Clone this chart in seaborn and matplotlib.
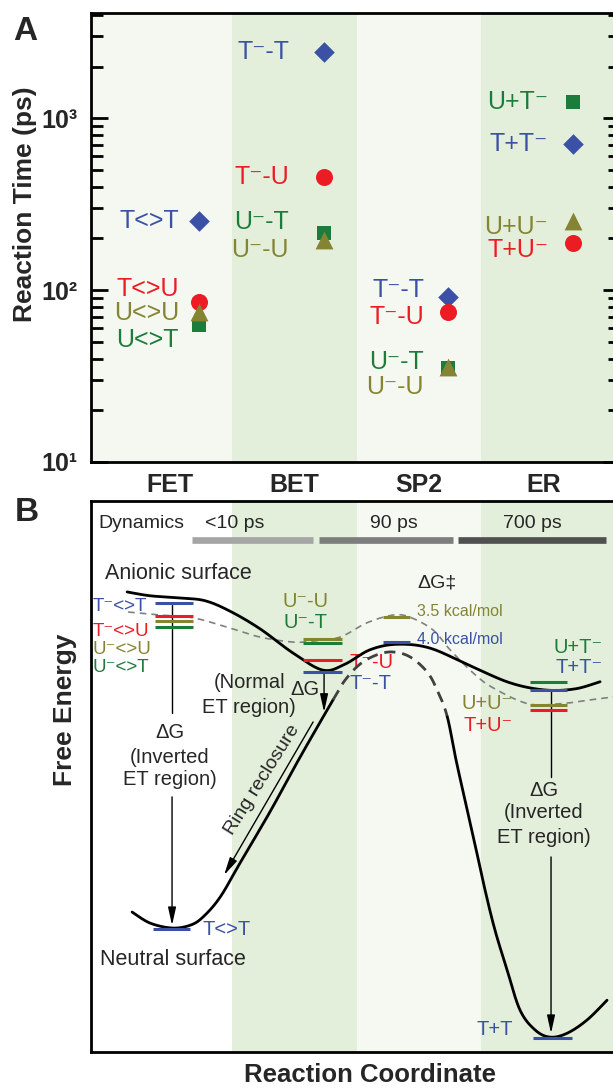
import numpy as np
import pandas as pd
import matplotlib
matplotlib.use("Agg")
import matplotlib.pyplot as plt
import seaborn as sns

sns.set_theme(style="white")
plt.rcParams["font.family"] = ["Liberation Sans", "DejaVu Sans"]

# ---------------- data: panel A ----------------
stages = ["FET", "BET", "SP2", "ER"]
tt_time = [253, 2430, 91, 706]        # blue diamonds
tu_time = [85.5, 456, 75, 188]        # red circles
ut_time = [62.7, 214, 35.2, 1245]     # green squares
uu_time = [74.8, 195, 35.8, 253]      # olive triangles

tt_labels = ["T<>T", "T⁻-T", "T⁻-T", "T+T⁻"]
tu_labels = ["T<>U", "T⁻-U", "T⁻-U", "T+U⁻"]
ut_labels = ["U<>T", "U⁻-T", "U⁻-T", "U+T⁻"]
uu_labels = ["U<>U", "U⁻-U", "U⁻-U", "U+U⁻"]
tt_label_y = [252, 2421, 100, 706]
tu_label_y = [101, 454, 69.7, 171]
ut_label_y = [51.2, 248, 38.1, 1239]
uu_label_y = [73.5, 171, 27.3, 232]
label_right = [0.072, 0.956, 2.040, 3.036]
yticks_a = [10, 100, 1000]
ytick_labels_a = ["10¹", "10²", "10³"]

# ---------------- data: panel B ----------------
anion_x = [-0.345, -0.161, 0.080, 0.281, 0.482, 0.723, 0.988, 1.229, 1.406,
           1.606, 1.823, 2.088, 2.410, 2.731, 3.012, 3.253, 3.454]
anion_y = [83.5, 82.8, 82.4, 81.9, 80.0, 76.8, 72.4, 69.3, 70.4,
           73.0, 74.0, 73.3, 70.1, 67.0, 65.7, 65.9, 67.2]
anion2_x = [-0.337, -0.080, 0.185, 0.458, 0.723, 0.988, 1.149, 1.365, 1.582,
            1.791, 1.928, 2.112, 2.249, 2.434, 2.594, 2.876, 3.133, 3.373, 3.614]
anion2_y = [79.85, 79.3, 78.8, 77.1, 75.3, 74.4, 74.6, 75.3, 77.9,
            79.3, 78.9, 76.6, 73.0, 68.8, 66.1, 63.2, 63.2, 63.9, 64.6]
neutral_x = [-0.305, -0.161, 0.016, 0.161, 0.265, 0.402, 0.562, 0.803, 1.044,
             1.309, 1.406, 1.526, 1.663, 1.791, 1.928, 2.064, 2.145, 2.225,
             2.297, 2.369, 2.450, 2.530, 2.610, 2.707, 2.811, 2.932, 3.052,
             3.189, 3.349, 3.510]
neutral_y = [25.4, 23.4, 22.5, 23.0, 24.5, 28.1, 34.3, 43.6, 53.5,
             63.9, 67.5, 70.4, 72.1, 72.6, 71.7, 69.0, 65.7, 61.0,
             53.0, 45.7, 37.6, 29.4, 22.1, 14.9, 7.6, 4.0, 2.7,
             3.4, 5.8, 9.4]
neutral_dash_range = (1.309, 2.225)

fet_levels = [81.5, 79.1, 78.2, 77.1]
bet_levels = [75.0, 74.2, 71.1, 69.0]
sp2_levels = [78.9, 74.4]
er_levels = [67.2, 65.7, 63.0, 62.1]
neutral_levels = [22.3, 2.5]
dyn_labels = ["<10 ps", "90 ps", "700 ps"]

BLUE = "#3a51a6"
RED = "#ec1c24"
OLIVE = "#848432"
GREEN = "#1c7c3b"
BAND_G = "#e4efdb"
BAND_L = "#f4f8f0"


def catmull(xs, ys, n=24):
    P = np.column_stack([xs, ys]).astype(float)
    P = np.vstack([P[0], P, P[-1]])
    segs = []
    t = np.linspace(0, 1, n, endpoint=False)[:, None]
    for i in range(1, len(P) - 2):
        p0, p1, p2, p3 = P[i - 1], P[i], P[i + 1], P[i + 2]
        seg = 0.5 * (2 * p1 + (-p0 + p2) * t + (2 * p0 - 5 * p1 + 4 * p2 - p3) * t ** 2
                     + (-p0 + 3 * p1 - 3 * p2 + p3) * t ** 3)
        segs.append(seg)
    segs.append(P[-2][None])
    return np.vstack(segs)


fig = plt.figure(figsize=(6.13, 10.88), dpi=100)
W, H = 613.0, 1088.0
axA = fig.add_axes([91 / W, 1 - 462 / H, (620 - 91) / W, (462 - 13) / H])
axB = fig.add_axes([91 / W, 1 - 1052 / H, (620 - 91) / W, (1052 - 501) / H])
XL = (-0.635, 3.614)

# ---------------- panel A ----------------
axA.set_yscale("log")
axA.set_xlim(*XL)
axA.set_ylim(10, 4100)
for i in range(4):
    lo = XL[0] if i == 0 else i - 0.5
    hi = XL[1] if i == 3 else i + 0.5
    axA.axvspan(lo, hi, color=BAND_G if i % 2 else BAND_L, lw=0, zorder=0)

xm = np.arange(4) + 0.235
series = [(tt_time, "D", BLUE, 110), (tu_time, "o", RED, 150),
          (ut_time, "s", GREEN, 115), (uu_time, "^", OLIVE, 165)]
for vals, mk, col, s in series:
    sns.scatterplot(x=xm, y=vals, marker=mk, color=col, s=s, linewidth=0,
                    ax=axA, zorder=3, legend=False)

for labs, ys, col in [(tt_labels, tt_label_y, BLUE), (tu_labels, tu_label_y, RED),
                      (ut_labels, ut_label_y, GREEN), (uu_labels, uu_label_y, OLIVE)]:
    for i in range(4):
        axA.text(label_right[i], ys[i], labs[i], color=col, fontsize=18,
                 ha="right", va="center")

axA.set_xticks(range(4))
axA.set_xticklabels(stages, fontsize=18, fontweight="bold")
axA.set_yticks(yticks_a)
axA.set_yticklabels(ytick_labels_a, fontsize=18, fontweight="bold")
axA.tick_params(axis="x", length=0, pad=8)
axA.tick_params(axis="y", which="both", direction="in", left=True, right=True,
                width=2, color="black", pad=10)
axA.tick_params(axis="y", which="major", length=12)
axA.tick_params(axis="y", which="minor", length=8.5)
for sp in axA.spines.values():
    sp.set_linewidth(2)
    sp.set_color("black")
axA.set_xlabel("")
axA.set_ylabel("")

# ---------------- panel B ----------------
axB.set_xlim(*XL)
axB.set_ylim(0, 100)
for i in range(1, 4):
    lo, hi = i - 0.5, (XL[1] if i == 3 else i + 0.5)
    axB.axvspan(lo, hi, color=BAND_G if i % 2 else "#f5f9f2", lw=0, zorder=0)
axB.set_xticks([])
axB.set_yticks([])
for sp in axB.spines.values():
    sp.set_linewidth(2)
    sp.set_color("black")

# dynamics bars
bar_cols = ["#a5a5a5", "#7d7d7d", "#505050"]
bar_x = [(0.173, 1.146), (1.194, 2.271), (2.313, 3.502)]
for (a, b), c in zip(bar_x, bar_cols):
    axB.hlines(92.9, a, b, color=c, lw=4.8, zorder=2)
axB.text(-0.578, 96.0, "Dynamics", fontsize=14, ha="left", va="center")
for lab, xc in zip(dyn_labels, [0.52, 1.80, 2.912]):
    axB.text(xc, 96.0, lab, fontsize=14, ha="center", va="center")

# curves
ca = catmull(anion_x, anion_y)
sns.lineplot(x=ca[:, 0], y=ca[:, 1], sort=False, estimator=None, color="black",
             lw=2.0, ax=axB, zorder=4)
cd = catmull(anion2_x, anion2_y)
sns.lineplot(x=cd[:, 0], y=cd[:, 1], sort=False, estimator=None, color="#808080",
             lw=1.2, ax=axB, zorder=3).lines[-1].set_dashes((4, 3))
cn = catmull(neutral_x, neutral_y)
a0, a1 = neutral_dash_range
left = cn[cn[:, 0] <= a0]
mid = cn[(cn[:, 0] >= a0) & (cn[:, 0] <= a1)]
right = cn[cn[:, 0] >= a1]
for part in (left, right):
    axB.plot(part[:, 0], part[:, 1], color="black", lw=2.0, zorder=4)
axB.plot(mid[:, 0], mid[:, 1], color="#404040", lw=2.0, zorder=4, dashes=(4, 2.5))

# energy levels
def levels(ys, cols, x0, x1):
    for y, c in zip(ys, cols):
        axB.hlines(y, x0, x1, color=c, lw=2.2, zorder=5)

levels(fet_levels, [BLUE, RED, OLIVE, GREEN], -0.120, 0.185)
levels(bet_levels, [OLIVE, GREEN, RED, BLUE], 1.068, 1.382)
levels(sp2_levels, [OLIVE, BLUE], 1.711, 1.928)
levels(er_levels, [GREEN, BLUE, OLIVE, RED], 2.892, 3.189)
axB.hlines(neutral_levels[0], -0.137, 0.161, color=BLUE, lw=2.2, zorder=5)
axB.hlines(neutral_levels[1], 2.916, 3.229, color=BLUE, lw=2.2, zorder=5)

LF = 14.5
SF = 13.5
# FET labels (tight stack)
axB.text(-0.62, 80.8, "T⁻<>T", color=BLUE, fontsize=SF, ha="left", va="center")
axB.text(-0.62, 76.4, "T⁻<>U", color=RED, fontsize=SF, ha="left", va="center")
axB.text(-0.62, 73.1, "U⁻<>U", color=OLIVE, fontsize=SF, ha="left", va="center")
axB.text(-0.62, 69.8, "U⁻<>T", color=GREEN, fontsize=SF, ha="left", va="center")
# BET labels
axB.text(1.084, 81.7, "U⁻-U", color=OLIVE, fontsize=LF, ha="center", va="center")
axB.text(1.084, 77.9, "U⁻-T", color=GREEN, fontsize=LF, ha="center", va="center")
axB.text(1.445, 70.6, "T⁻-U", color=RED, fontsize=LF, ha="left", va="center")
axB.text(1.445, 66.8, "T⁻-T", color=BLUE, fontsize=LF, ha="left", va="center")
# SP2 labels
axB.text(1.99, 85.1, "ΔG‡", fontsize=14, ha="left", va="center")
axB.text(1.984, 79.9, "3.5 kcal/mol", color=OLIVE, fontsize=11.5, ha="left", va="center")
axB.text(1.984, 74.8, "4.0 kcal/mol", color=BLUE, fontsize=11.5, ha="left", va="center")
# ER labels
axB.text(3.478, 73.5, "U+T⁻", color=GREEN, fontsize=LF, ha="right", va="center")
axB.text(3.478, 69.7, "T+T⁻", color=BLUE, fontsize=LF, ha="right", va="center")
axB.text(2.75, 63.3, "U+U⁻", color=OLIVE, fontsize=LF, ha="right", va="center")
axB.text(2.75, 59.3, "T+U⁻", color=RED, fontsize=LF, ha="right", va="center")
# neutral labels
axB.text(0.257, 22.3, "T<>T", color=BLUE, fontsize=LF, ha="left", va="center")
axB.text(2.755, 4.0, "T+T", color=BLUE, fontsize=LF, ha="right", va="center")
axB.text(-0.562, 16.7, "Neutral surface", fontsize=15.5, ha="left", va="center")
axB.text(-0.522, 86.9, "Anionic surface", fontsize=15.5, ha="left", va="center")

# arrows
AST = "-|>,head_length=0.9,head_width=0.2"
def varrow(x, top, gap_top, gap_bot, tip):
    axB.plot([x, x], [top, gap_top], color="black", lw=1.0, zorder=4)
    axB.annotate("", xy=(x, tip), xytext=(x, gap_bot),
                 arrowprops=dict(arrowstyle=AST, color="black", lw=1.0,
                                 shrinkA=0, shrinkB=0), zorder=4)

varrow(0.016, 81.5, 61.5, 46.3, 23.0)
varrow(3.060, 65.7, 49.9, 35.4, 3.4)
axB.annotate("", xy=(1.237, 61.7), xytext=(1.237, 69.0),
             arrowprops=dict(arrowstyle=AST, color="black", lw=1.0, shrinkA=0, shrinkB=0))
for xc, lines in [(0.0, (57.9, 53.5, 49.4)), (3.004, (47.5, 43.4, 39.0))]:
    axB.text(xc, lines[0], "ΔG", fontsize=14.5, ha="center", va="center")
    axB.text(xc, lines[1], "(Inverted", fontsize=14.5, ha="center", va="center")
    axB.text(xc, lines[2], "ET region)", fontsize=14.5, ha="center", va="center")
axB.text(1.197, 65.7, "ΔG", fontsize=14.5, ha="right", va="center")
axB.text(0.635, 67.0, "(Normal", fontsize=14.5, ha="center", va="center")
axB.text(0.635, 62.6, "ET region)", fontsize=14.5, ha="center", va="center")

axB.annotate("", xy=(0.434, 32.1), xytext=(1.149, 59.9),
             arrowprops=dict(arrowstyle=AST, color="black", lw=1.0, shrinkA=0, shrinkB=0))
axB.text(0.739, 49.4, "Ring reclosure", fontsize=14, rotation=58,
         rotation_mode="anchor", ha="center", va="center")

# figure-level labels
fig.text(25 / W, 1 - 32 / H, "A", fontsize=24, fontweight="bold", ha="center", va="center")
fig.text(27 / W, 1 - 513 / H, "B", fontsize=24, fontweight="bold", ha="center", va="center")
fig.text(25 / W, 1 - 204 / H, "Reaction Time (ps)", fontsize=19, fontweight="bold",
         rotation=90, ha="center", va="center")
fig.text(65 / W, 1 - 710 / H, "Free Energy", fontsize=19, fontweight="bold",
         rotation=90, ha="center", va="center")
fig.text(370 / W, 1 - 1075 / H, "Reaction Coordinate", fontsize=18.5, fontweight="bold",
         ha="center", va="center")

fig.savefig("out.png", dpi=100, facecolor="white")
